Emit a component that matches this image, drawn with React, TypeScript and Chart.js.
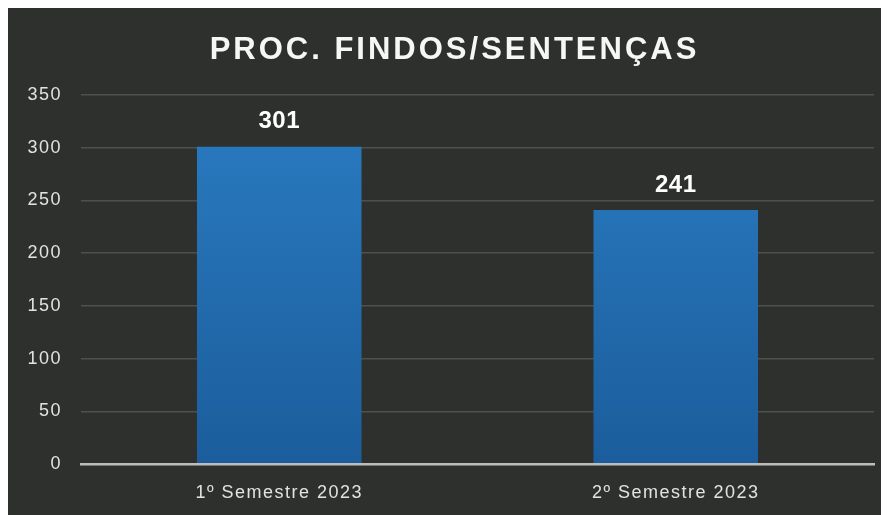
import React, { useEffect, useRef } from "react";
import { Chart, registerables } from "chart.js";

Chart.register(...registerables);

const chartTitle = "PROC. FINDOS/SENTENÇAS";
const categories = ["1º Semestre 2023", "2º Semestre 2023"];
const values = [301, 241];
const yTicks = [0, 50, 100, 150, 200, 250, 300, 350];

const BG = "#2e302e";

export default function App() {
  const ref = useRef<HTMLCanvasElement | null>(null);

  useEffect(() => {
    const canvas = ref.current;
    if (!canvas) return;

    const spacingPlugin = {
      id: "spacing",
      beforeDraw(chart: any) {
        chart.ctx.letterSpacing = "1.5px";
      },
      afterDraw(chart: any) {
        chart.ctx.letterSpacing = "0px";
      },
    };

    const labelsPlugin = {
      id: "valueLabels",
      afterDatasetsDraw(chart: any) {
        const ctx = chart.ctx;
        const meta = chart.getDatasetMeta(0);
        ctx.save();
        ctx.letterSpacing = "0.5px";
        ctx.font = "bold 24px 'Liberation Sans', Arial, sans-serif";
        ctx.fillStyle = "#ffffff";
        ctx.textAlign = "center";
        ctx.textBaseline = "bottom";
        meta.data.forEach((bar: any, i: number) => {
          ctx.fillText(String(values[i]), bar.x, bar.y - 13);
        });
        ctx.restore();
      },
    };

    const titlePlugin = {
      id: "customTitle",
      afterDraw(chart: any) {
        const ctx = chart.ctx;
        ctx.save();
        ctx.letterSpacing = "3px";
        ctx.font = "bold 31px 'Liberation Sans', Arial, sans-serif";
        ctx.fillStyle = "#f6f6f6";
        ctx.textAlign = "center";
        ctx.textBaseline = "middle";
        ctx.fillText(chartTitle, chart.width / 2 + 6, 42);
        ctx.restore();
      },
    };

    const chart = new Chart(canvas, {
      type: "bar",
      data: {
        labels: categories,
        datasets: [
          {
            data: values,
            backgroundColor: (c: any) => {
              const area = c.chart.chartArea;
              if (!area) return "#2070b2";
              const g = c.chart.ctx.createLinearGradient(0, area.top, 0, area.bottom);
              g.addColorStop(0, "#2a7cc2");
              g.addColorStop(1, "#1b5d9c");
              return g;
            },
            borderWidth: 0,
            categoryPercentage: 1,
            barPercentage: 0.415,
          },
        ],
      },
      options: {
        responsive: false,
        animation: false,
        layout: { padding: { top: 87, right: 15, bottom: 0, left: 0 } },
        plugins: {
          legend: { display: false },
          title: { display: false },
          tooltip: { enabled: false },
        },
        scales: {
          x: {
            afterFit(scale: any) {
              scale.height = 51;
            },
            grid: { display: false, drawTicks: false },
            border: { display: true, color: "#bdbdbd", width: 2.5, z: 1 },
            ticks: {
              color: "#e2e2e2",
              padding: 18,
              font: { family: "'Liberation Sans', Arial, sans-serif", size: 18 },
            },
          },
          y: {
            min: 0,
            max: 350,
            afterFit(scale: any) {
              scale.width = 73;
            },
            afterBuildTicks(scale: any) {
              scale.ticks = yTicks.map((v) => ({ value: v }));
            },
            grid: {
              drawTicks: false,
              color: (c: any) => (c.tick && c.tick.value === 0 ? "rgba(0,0,0,0)" : "#4e504e"),
              lineWidth: 1.5,
            },
            border: { display: false },
            ticks: {
              color: "#e2e2e2",
              padding: 19,
              font: { family: "'Liberation Sans', Arial, sans-serif", size: 18 },
            },
          },
        },
      },
      plugins: [spacingPlugin, labelsPlugin, titlePlugin],
    } as any);

    return () => chart.destroy();
  }, []);

  return (
    <div style={{ width: 881, height: 507, background: BG }}>
      <canvas ref={ref} width={881} height={507} style={{ display: "block" }} />
    </div>
  );
}
